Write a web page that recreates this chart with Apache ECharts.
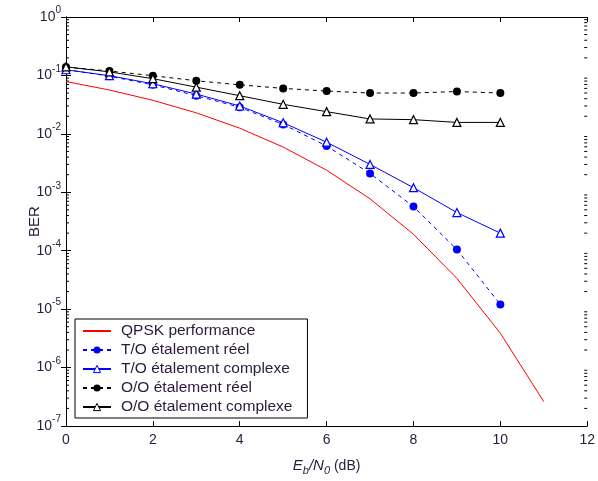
<!DOCTYPE html>
<html><head><meta charset="utf-8">
<script src="https://cdn.jsdelivr.net/npm/echarts@6/dist/echarts.min.js"></script>
<style>html,body{margin:0;padding:0;background:#fff}#c{width:598px;height:481px}</style>
</head><body><div id="c"></div>
<script>
var snr = [0,1,2,3,4,5,6,7,8,9,10];
var qpskX = [0,1,2,3,4,5,6,7,8,9,10,11];
var qpsk = [7.86e-2,5.63e-2,3.75e-2,2.29e-2,1.25e-2,5.95e-3,2.39e-3,7.73e-4,1.91e-4,3.36e-5,3.87e-6,2.61e-7];
var toReel = [0.126,0.097,0.069,0.045,0.0285,0.0145,0.0062,0.0021,5.7e-4,1.05e-4,1.2e-5];
var toComplexe = [0.125,0.099,0.072,0.048,0.030,0.0155,0.0072,0.0030,1.2e-3,4.5e-4,2.0e-4];
var ooReel = [0.139,0.119,0.099,0.081,0.069,0.060,0.054,0.050,0.050,0.053,0.050];
var ooComplexe = [0.140,0.115,0.088,0.063,0.045,0.032,0.024,0.018,0.0175,0.0157,0.0157];
var seriesNames = ['QPSK performance','T/O étalement réel','T/O étalement complexe','O/O étalement réel','O/O étalement complexe'];
var xTicks = [0,2,4,6,8,10,12];
var decades = [1e-7,1e-6,1e-5,1e-4,1e-3,1e-2,1e-1];
var minorMult = [2,3,4,5,6,7,8,9];

var TXT = '#2b1a3d';
var FONT = 'Liberation Sans, Arial';
function pairs(xs, ys){ return ys.map(function(v,i){ return [xs[i], v]; }); }
var minorVals = [];
decades.forEach(function(d){ minorMult.forEach(function(m){ minorVals.push([0, d*m]); }); });

var legendData = seriesNames.map(function(n, i){
  return i === 0 ? {name:n, itemStyle:{color:'rgba(0,0,0,0)', borderColor:'rgba(0,0,0,0)', borderWidth:0}} : {name:n, itemStyle:{borderWidth:1}};
});

var chart = echarts.init(document.getElementById('c'));
chart.setOption({
  animation:false,
  backgroundColor:'#fff',
  grid:{left:66, right:10, top:17, bottom:53},
  legend:{
    orient:'vertical', left:75, top:319,
    data:legendData,
    backgroundColor:'#fff', borderColor:'#000', borderWidth:1, borderRadius:0,
    padding:[4,15,3,7], itemWidth:28, itemHeight:9, itemGap:3,
    textStyle:{fontFamily:FONT, fontSize:15.5, lineHeight:15, color:TXT, padding:[0,0,0,5]},
    selectedMode:false
  },
  xAxis:[{
    type:'value', min:0, max:12, interval:2, position:'bottom',
    axisLine:{show:true, lineStyle:{color:'#000', width:1}},
    axisTick:{show:true, inside:true, length:5, lineStyle:{color:'#000'}},
    axisLabel:{color:TXT, fontFamily:FONT, fontSize:14, margin:7},
    splitLine:{show:false},
    name:'{i|E}{s|b}{i|/N}{s|0}{n| (dB)}', nameLocation:'middle', nameGap:30, nameMoveOverlap:false,
    nameTextStyle:{color:TXT, fontFamily:FONT, fontSize:14,
      rich:{i:{fontStyle:'italic', fontSize:15, color:TXT, fontFamily:FONT},
            s:{fontStyle:'italic', fontSize:11, color:TXT, padding:[9,0,0,0], fontFamily:FONT},
            n:{fontSize:14, color:TXT, fontFamily:FONT}}}
  },{
    type:'value', min:0, max:12, interval:2, position:'top',
    axisLine:{show:true, lineStyle:{color:'#000', width:1}},
    axisTick:{show:true, inside:true, length:5, lineStyle:{color:'#000'}},
    axisLabel:{show:false}, splitLine:{show:false}
  }],
  yAxis:[{
    type:'log', logBase:10, min:1e-7, max:1, position:'left',
    axisLine:{show:true, lineStyle:{color:'#000', width:1}},
    axisTick:{show:true, inside:true, length:5, lineStyle:{color:'#000'}},
    axisLabel:{color:TXT, fontFamily:FONT, fontSize:14, margin:5,
      formatter:function(v){ var e=Math.round(Math.log10(v)); return '{b|10}{e|'+e+'}'; },
      rich:{b:{fontSize:14, color:TXT, fontFamily:FONT},
            e:{fontSize:10, color:TXT, padding:[0,0,13,0], fontFamily:FONT}}},
    splitLine:{show:false},
    name:'BER', nameLocation:'middle', nameGap:24, nameRotate:90, nameMoveOverlap:false,
    nameTextStyle:{color:TXT, fontFamily:FONT, fontSize:15}
  },{
    type:'log', logBase:10, min:1e-7, max:1, position:'right',
    axisLine:{show:true, lineStyle:{color:'#000', width:1}},
    axisTick:{show:true, inside:true, length:5, lineStyle:{color:'#000'}},
    axisLabel:{show:false}, splitLine:{show:false}
  }],
  series:[
    {type:'custom', name:'minor', silent:true, xAxisIndex:0, yAxisIndex:0, clip:false,
      data:minorVals,
      renderItem:function(params, api){
        var p1 = api.coord([0, api.value(1)]);
        var p2 = api.coord([12, api.value(1)]);
        return {type:'group', children:[
          {type:'line', shape:{x1:p1[0], y1:p1[1], x2:p1[0]+3, y2:p1[1]}, style:{stroke:'#000', lineWidth:1}},
          {type:'line', shape:{x1:p2[0], y1:p2[1], x2:p2[0]-3, y2:p2[1]}, style:{stroke:'#000', lineWidth:1}}
        ]};
      }},
    {type:'line', name:seriesNames[0], data:pairs(qpskX, qpsk), showSymbol:false, symbol:'none',
      lineStyle:{color:'#ff0000', width:1}, itemStyle:{color:'#ff0000'}},
    {type:'line', name:seriesNames[1], data:pairs(snr, toReel), symbol:'circle', symbolSize:8,
      lineStyle:{color:'#0000ff', width:1, type:[4,4]}, itemStyle:{color:'#0000ff'}},
    {type:'line', name:seriesNames[2], data:pairs(snr, toComplexe), symbol:'triangle', symbolSize:8,
      lineStyle:{color:'#0000ff', width:1}, itemStyle:{color:'#fff', borderColor:'#0000ff', borderWidth:1.2}},
    {type:'line', name:seriesNames[3], data:pairs(snr, ooReel), symbol:'circle', symbolSize:8,
      lineStyle:{color:'#000', width:1, type:[4,4]}, itemStyle:{color:'#000'}},
    {type:'line', name:seriesNames[4], data:pairs(snr, ooComplexe), symbol:'triangle', symbolSize:8,
      lineStyle:{color:'#000', width:1}, itemStyle:{color:'#fff', borderColor:'#000', borderWidth:1.2}}
  ]
});
</script></body></html>
